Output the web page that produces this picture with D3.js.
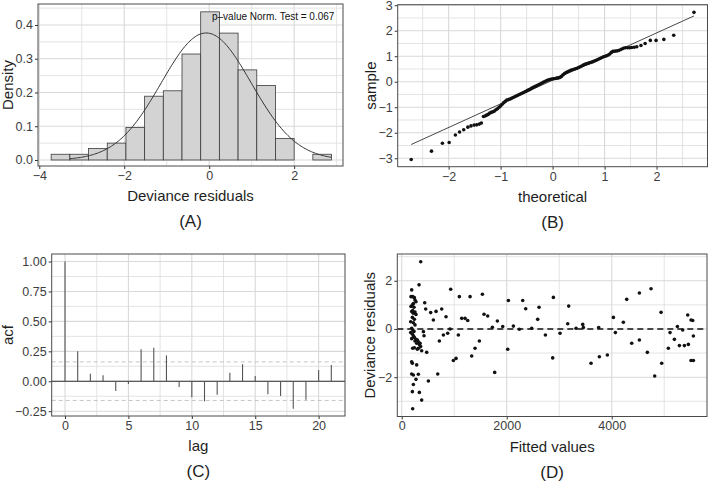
<!DOCTYPE html>
<html><head><meta charset="utf-8">
<script src="https://cdn.jsdelivr.net/npm/d3@7"></script>
<style>
body{margin:0;background:#fff}
svg{display:block}
text{font-family:"Liberation Sans",Arial,Helvetica,sans-serif}
</style>
</head><body>
<svg id="c" width="709" height="484"></svg>
<script>
// ---------- Panel A: histogram of deviance residuals ----------
const histEdges = [-3.72,-3.28,-2.84,-2.40,-1.96,-1.52,-1.08,-0.64,-0.20,0.24,0.68,1.12,1.56,2.00,2.44,2.88];
const histDensity = [0.017,0.017,0.034,0.050,0.096,0.189,0.205,0.314,0.439,0.376,0.267,0.221,0.064,0,0.017];
const normMean = -0.07;
const normSd = 1.06;
const normCurveRange = [-3.28, 2.87];
const pValueLabel = "p\u2013value Norm. Test = 0.067";
const histXTicks = [-4,-2,0,2];
const histYTicks = [0,0.1,0.2,0.3,0.4];

// ---------- Panel B: normal QQ plot ----------
const qqTheoretical = [-2.72,-2.33,-2.12,-1.99,-1.87,-1.79,-1.71,-1.63,-1.57,-1.51,-1.46,-1.41,-1.37,
 -1.33,-1.30,-1.27,-1.24,-1.21,-1.18,-1.15,-1.12,-1.09,-1.06,-1.03,-1.00,-0.97,-0.94,-0.91,-0.88,-0.85,
 -0.82,-0.79,-0.76,-0.73,-0.70,-0.67,-0.64,-0.61,-0.58,-0.55,-0.52,-0.49,-0.46,-0.43,-0.40,-0.37,-0.34,
 -0.31,-0.28,-0.25,-0.22,-0.19,-0.16,-0.13,-0.10,-0.07,-0.04,-0.01,0.02,0.05,0.08,0.11,0.14,0.17,0.20,
 0.23,0.26,0.29,0.32,0.35,0.38,0.41,0.44,0.47,0.50,0.53,0.56,0.59,0.62,0.65,0.68,0.71,0.74,0.77,0.80,
 0.83,0.86,0.89,0.92,0.95,0.98,1.01,1.04,1.07,1.10,1.13,1.16,1.20,1.24,1.28,1.32,1.36,1.40,1.44,1.48,
 1.52,1.57,1.62,1.70,1.78,1.88,1.99,2.14,2.33,2.72];
const qqSample = [-3.05,-2.72,-2.41,-2.38,-2.09,-1.97,-1.88,-1.78,-1.73,-1.70,-1.69,-1.66,-1.62,
 -1.36,-1.34,-1.31,-1.28,-1.23,-1.20,-1.18,-1.15,-1.10,-1.06,-1.00,-0.95,-0.88,-0.82,-0.77,-0.72,-0.70,
 -0.68,-0.65,-0.62,-0.59,-0.56,-0.53,-0.50,-0.47,-0.44,-0.41,-0.38,-0.35,-0.32,-0.29,-0.25,-0.22,-0.19,
 -0.16,-0.13,-0.10,-0.07,-0.03,0.00,0.03,0.06,0.08,0.10,0.11,0.12,0.13,0.14,0.15,0.17,0.21,0.27,
 0.32,0.36,0.39,0.42,0.45,0.47,0.49,0.51,0.53,0.56,0.59,0.62,0.65,0.68,0.70,0.72,0.74,0.76,0.78,0.81,
 0.83,0.86,0.89,0.92,0.95,0.98,1.00,1.02,1.05,1.09,1.15,1.19,1.20,1.21,1.23,1.27,1.31,1.33,1.33,1.33,
 1.34,1.35,1.37,1.42,1.50,1.62,1.62,1.66,1.82,2.72];
const qqLineX = [-2.72, 2.72];
const qqLineY = [-2.46, 2.58];
const qqXTicks = [-2,-1,0,1,2];
const qqYTicks = [-3,-2,-1,0,1,2,3];

// ---------- Panel C: ACF ----------
const acfLags = [0,1,2,3,4,5,6,7,8,9,10,11,12,13,14,15,16,17,18,19,20,21];
const acfValues = [1.00,0.25,0.062,0.050,-0.081,-0.022,0.267,0.281,0.216,-0.048,-0.134,-0.168,-0.113,0.071,0.143,0.045,-0.108,-0.122,-0.229,-0.155,0.095,0.135];
const acfBounds = [0.162,-0.160];
const acfXTicks = [0,5,10,15,20];
const acfYTicks = [-0.25,0,0.25,0.5,0.75,1.0];

// ---------- Panel D: residuals vs fitted ----------
const fittedValues = [362,330,190,177,209,241,253,272,203,222,177,234,209,190,253,222,272,203,241,171,222,253,190,209,234,171,203,222,241,190,272,253,298,317,285,336,349,361,317,209,241,298,380,190,203,285,190,222,317,272,222,203,336,380,209,
 438,457,413,425,476,508,552,603,654,686,717,762,794,844,876,921,933,984,1035,1079,1098,1143,1206,1257,1302,1333,1397,1479,1537,1568,1638,1727,1771,1822,1924,2019,2032,2127,2241,2305,2362,2476,2590,2616,2737,2876,2889,3016,3162,3181,3321,3448,3460,3606,3752,3765,3917,4032,4070,4222,4286,4381,4527,4527,4679,4749,4819,4940,4952,5079,5111,5194,5251,5289,5352,5384,5448,5460,5511,5543,5556,5511,5556];
const devResiduals = [2.79,1.83,1.62,1.34,1.34,1.30,1.20,1.13,1.00,1.05,0.93,0.90,0.76,0.72,0.70,0.65,0.60,0.48,0.40,0.30,0.26,0.17,0.03,-0.04,-0.10,-0.15,-0.21,-0.28,-0.35,-0.40,-0.43,-0.50,-0.46,-0.53,-0.59,-0.64,-0.59,-0.73,-0.80,-0.80,-0.78,-0.84,-0.90,-1.36,-1.42,-1.49,-1.87,-1.91,-1.88,-2.09,-2.30,-2.60,-2.63,-2.95,-3.31,
 1.09,0.83,-0.11,-0.28,-0.97,-2.16,0.68,0.37,0.73,-1.87,-0.50,0.83,-0.25,0.51,-0.18,0.00,1.65,-1.31,-1.22,-0.25,1.34,0.44,0.44,0.35,1.34,-1.12,-0.80,-0.50,1.44,0.61,0.54,0.07,-1.80,0.33,0.10,-0.84,1.18,0.12,-0.01,1.18,0.84,0.03,0.40,0.90,-0.25,-1.20,1.31,-0.18,0.22,0.95,0.03,0.19,0.06,-1.42,0.06,-1.15,-1.08,0.48,-0.15,0.28,1.23,-0.59,1.49,-0.46,-0.97,1.67,-1.95,0.69,-1.42,-0.80,-0.15,-0.43,0.10,-0.69,-0.04,-0.69,0.58,-0.64,0.37,0.35,-0.29,-1.31,-1.31];
const devXTicks = [0,2000,4000];
const devYTicks = [-2,0,2];

// ---------- drawing ----------
const svg = d3.select("#c");
const GRID = "#d9d9d9", FRAME = "#4a4a4a", TICKTXT = "#3d3d3d", TITLE = "#1e1e1e";

function panel(o){
  const g = svg.append("g");
  const x = d3.scaleLinear().domain(o.xDom).range([o.left, o.right]);
  const y = d3.scaleLinear().domain(o.yDom).range([o.bottom, o.top]);
  const grid = g.append("g");
  grid.selectAll(".xm").data(o.xMinor).join("line")
    .attr("x1",d=>x(d)).attr("x2",d=>x(d)).attr("y1",o.top).attr("y2",o.bottom)
    .attr("stroke",GRID).attr("stroke-width",0.7);
  grid.selectAll(".ym").data(o.yMinor).join("line")
    .attr("y1",d=>y(d)).attr("y2",d=>y(d)).attr("x1",o.left).attr("x2",o.right)
    .attr("stroke",GRID).attr("stroke-width",0.7);
  grid.selectAll(".xM").data(o.xTicks).join("line")
    .attr("x1",d=>x(d)).attr("x2",d=>x(d)).attr("y1",o.top).attr("y2",o.bottom)
    .attr("stroke",GRID).attr("stroke-width",1.1);
  grid.selectAll(".yM").data(o.yTicks).join("line")
    .attr("y1",d=>y(d)).attr("y2",d=>y(d)).attr("x1",o.left).attr("x2",o.right)
    .attr("stroke",GRID).attr("stroke-width",1.1);
  const data = g.append("g");
  const top = g.append("g");
  const ax = top.append("g").attr("transform",`translate(0,${o.bottom})`)
    .call(d3.axisBottom(x).tickValues(o.xTicks).tickSize(3).tickPadding(2).tickFormat(o.xFmt));
  const ay = top.append("g").attr("transform",`translate(${o.left},0)`)
    .call(d3.axisLeft(y).tickValues(o.yTicks).tickSize(3).tickPadding(2).tickFormat(o.yFmt));
  [ax,ay].forEach(a=>{
    a.select(".domain").remove();
    a.selectAll(".tick line").attr("stroke","#333");
    a.selectAll(".tick text").attr("fill",TICKTXT).style("font-size","12.5px")
      .style("font-family",'"Liberation Sans",Arial,sans-serif');
  });
  top.append("rect").attr("x",o.left).attr("y",o.top)
    .attr("width",o.right-o.left).attr("height",o.bottom-o.top)
    .attr("fill","none").attr("stroke",FRAME).attr("stroke-width",1);
  const cx = (o.left+o.right)/2, cy = (o.top+o.bottom)/2;
  top.append("text").attr("x",cx).attr("y",o.bottom+35).attr("text-anchor","middle")
    .attr("fill",TITLE).style("font-size","15px").text(o.xTitle);
  top.append("text").attr("transform",`translate(${o.yTitleX},${cy}) rotate(-90)`)
    .attr("text-anchor","middle").attr("fill",TITLE).style("font-size","15px").text(o.yTitle);
  top.append("text").attr("x",cx).attr("y",o.bottom+61).attr("text-anchor","middle")
    .attr("fill",TITLE).style("font-size","17px").text(o.label);
  return {x,y,data,top};
}

// Panel A
{
  const p = panel({left:38,right:343,top:4,bottom:166,
    xDom:[-4.03,3.15], yDom:[-0.0178,0.4622],
    xTicks:histXTicks, yTicks:histYTicks,
    xMinor:[-3,-1,1,3], yMinor:[0.05,0.15,0.25,0.35,0.45],
    xFmt:d3.format("d"), yFmt:d3.format(".1f"),
    xTitle:"Deviance residuals", yTitle:"Density", yTitleX:13, label:"(A)"});
  const bins = histDensity.map((d,i)=>({x0:histEdges[i],x1:histEdges[i+1],d})).filter(b=>b.d>0);
  p.data.selectAll("rect").data(bins).join("rect")
    .attr("x",b=>p.x(b.x0)).attr("width",b=>p.x(b.x1)-p.x(b.x0))
    .attr("y",b=>p.y(b.d)).attr("height",b=>p.y(0)-p.y(b.d))
    .attr("fill","#d3d3d3").attr("stroke","#3a3a3a").attr("stroke-width",0.8);
  const xs = d3.range(0,201).map(i=>normCurveRange[0]+(normCurveRange[1]-normCurveRange[0])*i/200);
  const dn = v=>Math.exp(-0.5*((v-normMean)/normSd)**2)/(normSd*Math.sqrt(2*Math.PI));
  p.data.append("path").datum(xs)
    .attr("d",d3.line().x(v=>p.x(v)).y(v=>p.y(dn(v))))
    .attr("fill","none").attr("stroke","#333").attr("stroke-width",1);
  p.top.append("text").attr("x",212).attr("y",19.5).attr("fill","#111")
    .style("font-size","10px").text(pValueLabel);
}

// Panel B
{
  const p = panel({left:397.7,right:707.5,top:4.7,bottom:166.7,
    xDom:[-2.98,2.98], yDom:[-3.33,3.02],
    xTicks:qqXTicks, yTicks:qqYTicks,
    xMinor:[-2.5,-1.5,-0.5,0.5,1.5,2.5], yMinor:[-2.5,-1.5,-0.5,0.5,1.5,2.5],
    xFmt:d3.format("d"), yFmt:d3.format("d"),
    xTitle:"theoretical", yTitle:"sample", yTitleX:376, label:"(B)"});
  p.data.append("line").attr("x1",p.x(qqLineX[0])).attr("x2",p.x(qqLineX[1]))
    .attr("y1",p.y(qqLineY[0])).attr("y2",p.y(qqLineY[1]))
    .attr("stroke","#333").attr("stroke-width",0.9);
  p.data.selectAll("circle").data(qqTheoretical.map((t,i)=>[t,qqSample[i]])).join("circle")
    .attr("cx",d=>p.x(d[0])).attr("cy",d=>p.y(d[1])).attr("r",1.8).attr("fill","#111");
}

// Panel C
{
  const p = panel({left:51.7,right:345,top:254,bottom:416,
    xDom:[-1.05,22.08], yDom:[-0.290,1.063],
    xTicks:acfXTicks, yTicks:acfYTicks,
    xMinor:[2.5,7.5,12.5,17.5], yMinor:[-0.125,0.125,0.375,0.625,0.875],
    xFmt:d3.format("d"), yFmt:d3.format(".2f"),
    xTitle:"lag", yTitle:"acf", yTitleX:13, label:"(C)"});
  p.data.selectAll(".b").data(acfBounds).join("line")
    .attr("x1",p.x.range()[0]).attr("x2",p.x.range()[1])
    .attr("y1",d=>p.y(d)).attr("y2",d=>p.y(d))
    .attr("stroke","#bdbdbd").attr("stroke-width",0.9).attr("stroke-dasharray","4,3");
  p.data.append("line").attr("x1",p.x.range()[0]).attr("x2",p.x.range()[1])
    .attr("y1",p.y(0)).attr("y2",p.y(0)).attr("stroke","#333").attr("stroke-width",1);
  p.data.selectAll(".s").data(acfLags.map((l,i)=>[l,acfValues[i]])).join("line")
    .attr("x1",d=>p.x(d[0])).attr("x2",d=>p.x(d[0]))
    .attr("y1",p.y(0)).attr("y2",d=>p.y(d[1]))
    .attr("stroke","#555").attr("stroke-width",1.1);
}

// Panel D
{
  const p = panel({left:397.3,right:707,top:254,bottom:416.5,
    xDom:[-84,5815], yDom:[-3.63,3.11],
    xTicks:devXTicks, yTicks:devYTicks,
    xMinor:[1000,3000,5000], yMinor:[-3,-1,1,3],
    xFmt:d3.format("d"), yFmt:d3.format("d"),
    xTitle:"Fitted values", yTitle:"Deviance residuals", yTitleX:375, label:"(D)"});
  p.data.append("line").attr("x1",p.x.range()[0]).attr("x2",p.x.range()[1])
    .attr("y1",p.y(0)).attr("y2",p.y(0))
    .attr("stroke","#111").attr("stroke-width",1.4).attr("stroke-dasharray","6,4");
  p.data.selectAll("circle").data(fittedValues.map((f,i)=>[f,devResiduals[i]])).join("circle")
    .attr("cx",d=>p.x(d[0])).attr("cy",d=>p.y(d[1])).attr("r",1.8).attr("fill","#111");
}
</script>
</body></html>
